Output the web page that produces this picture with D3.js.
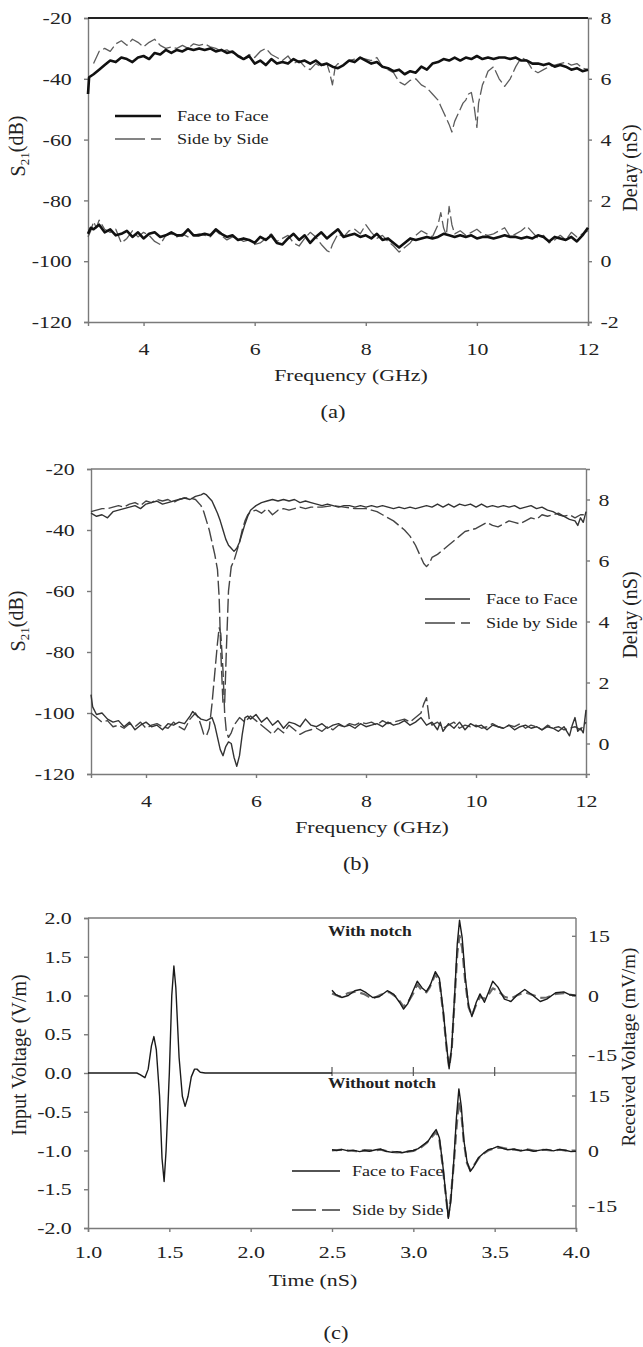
<!DOCTYPE html>
<html lang="en">
<head>
<meta charset="utf-8">
<title>S21, group delay and pulse response</title>
<script src="https://d3js.org/d3.v7.min.js"></script>
<style>
  body { margin: 0; background: #fff; }
  svg { display: block; font-family: "Liberation Serif", "Times New Roman", serif; }
  .axis path, .axis line { stroke: #7a7a7a; stroke-width: 1.4; }
  .axis text { font-size: 17.5px; fill: #222; font-family: "Liberation Serif", serif; }
</style>
</head>
<body>
<svg id="chart" width="643" height="1347"></svg>
<script>
// ---- data ----
const freqDomain = [3, 12];
const dbDomain = [-120, -20];
const freqTicks = [4, 6, 8, 10, 12];
const dbTicks = [-20, -40, -60, -80, -100, -120];
const delayTicksA = [-2, 0, 2, 4, 6, 8];
const delayTicksB = [0, 2, 4, 6, 8];
const timeTicks = [1.0, 1.5, 2.0, 2.5, 3.0, 3.5, 4.0];
const voltTicks = [2.0, 1.5, 1.0, 0.5, 0.0, -0.5, -1.0, -1.5, -2.0];
const mvTicks = [-15, 0, 15];
const midTicks = [2.5, 3.0, 3.5];

// (a) S21 in dB
const aFaceS21 = [[3.0,-45],[3.02,-39.5],[3.1,-38.5],[3.2,-37],[3.3,-35.5],[3.4,-34],[3.5,-34.5],[3.6,-33],[3.7,-33.5],[3.8,-34.5],[3.9,-33],[4.0,-32.5],[4.1,-33.5],[4.2,-31.5],[4.3,-32],[4.4,-30.5],[4.5,-31.5],[4.6,-30.5],[4.7,-31],[4.8,-30],[4.9,-30.5],[5.0,-30],[5.1,-30.5],[5.2,-30],[5.3,-31],[5.4,-30.5],[5.5,-31.5],[5.6,-31],[5.7,-32.5],[5.8,-33.5],[5.9,-32.5],[6.0,-35],[6.1,-34],[6.2,-35.5],[6.3,-33.5],[6.4,-35],[6.5,-34.5],[6.6,-35],[6.7,-33.5],[6.8,-34.5],[6.9,-34],[7.0,-35],[7.1,-34],[7.2,-35.5],[7.3,-35],[7.4,-36],[7.5,-36.5],[7.6,-35.5],[7.7,-34],[7.8,-34.5],[7.9,-33],[8.0,-34],[8.1,-35],[8.2,-34.5],[8.3,-36],[8.4,-36.5],[8.5,-37.5],[8.6,-37],[8.7,-38.5],[8.8,-37.5],[8.9,-38],[9.0,-36],[9.1,-37],[9.2,-35],[9.3,-34.5],[9.4,-33.5],[9.5,-34],[9.6,-33],[9.7,-34],[9.8,-33],[9.9,-33.5],[10.0,-32.5],[10.1,-33.5],[10.2,-33],[10.3,-33.5],[10.4,-33],[10.5,-33],[10.6,-33.5],[10.7,-33],[10.8,-34],[10.9,-34],[11.0,-35],[11.1,-35],[11.2,-35.5],[11.3,-35],[11.4,-36],[11.5,-35.5],[11.6,-36],[11.7,-37],[11.8,-36.5],[11.9,-37.5],[12.0,-37]];
const aSideS21 = [[3.1,-35],[3.15,-33],[3.2,-31],[3.3,-30],[3.4,-31],[3.5,-28.5],[3.6,-27.5],[3.7,-29],[3.8,-27],[3.9,-28],[4.0,-29.5],[4.1,-28],[4.2,-27],[4.3,-29],[4.4,-30],[4.5,-29.5],[4.6,-30],[4.7,-29],[4.8,-30],[4.9,-28.5],[5.0,-29],[5.1,-28.5],[5.2,-29.5],[5.3,-30],[5.4,-31],[5.5,-30.5],[5.6,-31.5],[5.7,-32],[5.8,-33.5],[5.9,-32],[6.0,-33],[6.1,-31],[6.2,-30],[6.3,-32],[6.4,-33],[6.5,-34],[6.6,-32.5],[6.7,-35],[6.8,-34],[6.9,-36],[7.0,-37],[7.1,-35],[7.2,-36],[7.3,-35],[7.35,-38],[7.4,-42],[7.45,-36],[7.5,-35],[7.6,-35.5],[7.7,-34],[7.8,-33.5],[7.9,-33],[8.0,-33.5],[8.1,-34],[8.2,-33],[8.3,-36],[8.4,-37],[8.5,-38],[8.6,-41],[8.7,-42],[8.8,-40.5],[8.9,-40],[9.0,-42],[9.1,-43],[9.2,-45],[9.3,-47],[9.35,-49],[9.4,-51],[9.45,-53],[9.5,-55],[9.55,-57.5],[9.6,-54],[9.65,-52],[9.7,-50],[9.75,-48],[9.8,-47],[9.85,-45],[9.9,-44.5],[9.95,-49],[10.0,-56],[10.03,-48],[10.1,-42],[10.15,-40],[10.2,-37.5],[10.3,-36],[10.4,-40],[10.5,-42.5],[10.6,-40],[10.7,-36],[10.8,-33],[10.9,-34],[11.0,-37],[11.1,-38],[11.2,-37],[11.3,-36],[11.4,-35.5],[11.5,-35],[11.6,-34.5],[11.7,-35.5],[11.8,-35],[11.9,-36.5],[12.0,-37]];
// (a) group delay in nS
const aFaceDelay = [[3.0,0.9],[3.05,1.1],[3.1,1.05],[3.2,1.2],[3.3,0.95],[3.4,1.05],[3.5,0.85],[3.6,0.9],[3.7,1.0],[3.8,0.8],[3.9,0.95],[4.0,0.75],[4.1,0.9],[4.2,0.95],[4.3,0.8],[4.4,0.85],[4.5,0.95],[4.6,0.85],[4.7,0.85],[4.8,1.05],[4.9,0.85],[5.0,0.85],[5.1,0.9],[5.2,0.85],[5.3,1.05],[5.4,0.9],[5.5,0.8],[5.6,0.85],[5.7,0.7],[5.8,0.75],[5.9,0.7],[6.0,0.6],[6.1,0.8],[6.2,0.7],[6.3,0.85],[6.4,0.6],[6.5,0.55],[6.6,0.75],[6.7,0.9],[6.8,0.7],[6.9,0.85],[7.0,0.6],[7.1,0.8],[7.2,0.95],[7.3,0.75],[7.4,0.9],[7.5,1.05],[7.6,0.8],[7.7,0.85],[7.8,0.9],[7.9,0.8],[8.0,0.85],[8.1,0.75],[8.2,0.9],[8.3,0.7],[8.4,0.75],[8.5,0.6],[8.6,0.45],[8.7,0.6],[8.8,0.75],[8.9,0.7],[9.0,0.75],[9.1,0.8],[9.2,0.75],[9.3,0.8],[9.4,0.9],[9.5,0.85],[9.6,0.8],[9.7,0.85],[9.8,0.8],[9.9,0.85],[10.0,0.75],[10.1,0.8],[10.2,0.8],[10.3,0.75],[10.4,0.8],[10.5,0.85],[10.6,0.8],[10.7,0.8],[10.8,0.75],[10.9,0.8],[11.0,0.75],[11.1,0.85],[11.2,0.8],[11.3,0.65],[11.4,0.8],[11.5,0.75],[11.6,0.7],[11.7,0.8],[11.8,0.65],[11.9,0.85],[12.0,1.1]];
const aSideDelay = [[3.0,0.8],[3.05,1.0],[3.1,1.3],[3.15,1.1],[3.2,1.35],[3.3,1.05],[3.4,0.95],[3.5,1.05],[3.6,0.6],[3.7,0.75],[3.8,1.0],[3.9,0.8],[4.0,0.95],[4.1,0.85],[4.2,0.65],[4.3,0.55],[4.4,0.85],[4.5,0.9],[4.6,0.8],[4.7,0.9],[4.8,0.8],[4.9,0.85],[5.0,0.9],[5.1,0.85],[5.2,0.8],[5.3,1.0],[5.4,0.85],[5.5,0.7],[5.6,0.8],[5.7,0.75],[5.8,0.65],[5.9,0.7],[6.0,0.55],[6.1,0.6],[6.2,0.75],[6.3,0.9],[6.4,0.65],[6.5,0.75],[6.6,0.85],[6.7,0.6],[6.8,0.5],[6.9,0.75],[7.0,0.95],[7.1,0.8],[7.2,0.55],[7.3,0.35],[7.35,0.3],[7.4,0.55],[7.5,0.9],[7.6,0.8],[7.7,1.0],[7.8,1.05],[7.9,0.9],[8.0,1.2],[8.1,0.95],[8.2,0.75],[8.3,0.85],[8.4,0.65],[8.5,0.5],[8.6,0.3],[8.7,0.45],[8.8,0.6],[8.9,0.85],[9.0,1.0],[9.1,0.9],[9.2,0.8],[9.3,1.2],[9.35,1.6],[9.4,1.1],[9.45,0.85],[9.5,1.8],[9.55,1.2],[9.6,0.9],[9.7,1.0],[9.8,0.85],[9.9,0.95],[10.0,1.05],[10.1,0.9],[10.2,0.85],[10.3,0.9],[10.4,1.0],[10.5,1.1],[10.6,0.8],[10.7,0.9],[10.8,1.0],[10.9,1.15],[11.0,0.95],[11.1,0.75],[11.2,0.85],[11.3,0.6],[11.4,0.7],[11.5,0.85],[11.6,0.7],[11.7,0.95],[11.8,0.8],[11.9,0.9],[12.0,1.0]];

// (b) S21 in dB
const bFaceS21 = [[3.0,-34.5],[3.1,-35.5],[3.2,-35],[3.3,-36],[3.4,-34],[3.5,-33.5],[3.6,-33],[3.7,-32.5],[3.8,-32],[3.9,-33],[4.0,-31.5],[4.1,-31],[4.2,-30.5],[4.3,-31.5],[4.4,-31],[4.5,-30.5],[4.6,-30],[4.7,-29.5],[4.8,-30],[4.9,-29],[5.0,-28.5],[5.05,-28],[5.1,-28.5],[5.15,-29.5],[5.2,-30.5],[5.25,-32.5],[5.3,-34.5],[5.35,-37],[5.4,-40],[5.45,-43],[5.5,-45],[5.55,-46],[5.6,-47],[5.65,-46],[5.7,-44],[5.75,-41],[5.8,-38],[5.85,-35.5],[5.9,-33.5],[6.0,-32],[6.1,-31],[6.2,-30.5],[6.3,-30],[6.4,-30.5],[6.5,-30],[6.6,-30.5],[6.7,-30],[6.8,-31],[6.9,-30.5],[7.0,-31],[7.1,-31.5],[7.2,-32],[7.3,-31.5],[7.4,-32],[7.5,-32.5],[7.6,-32],[7.7,-32],[7.8,-32.5],[7.9,-32],[8.0,-32.5],[8.1,-32],[8.2,-32.5],[8.3,-32],[8.4,-32.5],[8.5,-33],[8.6,-32.5],[8.7,-33],[8.8,-32.5],[8.9,-33],[9.0,-32.5],[9.1,-32],[9.2,-32.5],[9.3,-31.5],[9.4,-32.5],[9.5,-31.5],[9.6,-32.5],[9.7,-31.5],[9.8,-32],[9.9,-31.5],[10.0,-32.5],[10.1,-31.5],[10.2,-32.5],[10.3,-32],[10.4,-32.5],[10.5,-32],[10.6,-32.5],[10.7,-32],[10.8,-33],[10.9,-32.5],[11.0,-32],[11.1,-33],[11.2,-32.5],[11.3,-33.5],[11.4,-34],[11.5,-35],[11.6,-35.5],[11.7,-36.5],[11.8,-37],[11.85,-38.5],[11.9,-36],[11.95,-37.5],[12.0,-34]];
const bSideS21 = [[3.0,-34],[3.1,-33.5],[3.2,-33],[3.3,-33],[3.4,-32.5],[3.5,-32],[3.6,-32.5],[3.7,-31.5],[3.8,-31],[3.9,-32],[4.0,-30.5],[4.1,-31],[4.2,-30],[4.3,-30.5],[4.4,-30],[4.5,-31],[4.6,-30],[4.7,-29.5],[4.8,-29.5],[4.9,-30],[5.0,-32],[5.05,-34],[5.1,-37],[5.15,-40],[5.2,-44],[5.25,-48],[5.3,-53],[5.33,-62],[5.36,-80],[5.4,-97],[5.43,-97],[5.46,-80],[5.5,-60],[5.55,-52],[5.6,-50],[5.65,-47],[5.7,-44],[5.75,-40],[5.8,-37],[5.85,-35],[5.9,-34],[6.0,-33.5],[6.1,-34.5],[6.2,-33],[6.3,-35],[6.4,-33.5],[6.5,-33],[6.6,-33.5],[6.7,-33],[6.8,-32.5],[6.9,-33],[7.0,-32.5],[7.2,-32.5],[7.4,-32],[7.6,-32.5],[7.8,-33],[8.0,-33],[8.1,-33.5],[8.2,-34],[8.3,-35],[8.4,-36],[8.5,-37],[8.6,-38.5],[8.7,-40],[8.8,-42],[8.9,-45],[9.0,-49],[9.05,-51],[9.1,-52],[9.15,-51],[9.2,-49],[9.3,-48],[9.4,-46.5],[9.5,-45],[9.6,-43.5],[9.7,-42],[9.8,-40.5],[9.9,-40],[10.0,-39.5],[10.1,-38.5],[10.2,-37.5],[10.3,-38.5],[10.4,-39],[10.5,-38],[10.6,-37],[10.7,-37.5],[10.8,-38],[10.9,-37],[11.0,-36],[11.1,-36.5],[11.2,-35],[11.3,-35.5],[11.4,-35],[11.5,-34.5],[11.6,-35.5],[11.7,-35],[11.8,-36],[11.9,-35],[12.0,-35]];
// (b) group delay in nS
const bFaceDelay = [[3.0,1.6],[3.03,1.2],[3.1,0.95],[3.2,1.0],[3.3,0.8],[3.4,0.7],[3.5,0.75],[3.6,0.55],[3.7,0.7],[3.8,0.45],[3.9,0.6],[4.0,0.7],[4.1,0.55],[4.2,0.6],[4.3,0.45],[4.4,0.65],[4.5,0.6],[4.6,0.7],[4.7,0.65],[4.8,0.9],[4.85,1.05],[4.9,0.95],[5.0,0.8],[5.1,0.75],[5.2,0.85],[5.25,0.6],[5.3,0.2],[5.35,-0.2],[5.4,-0.4],[5.45,-0.1],[5.5,0.05],[5.55,0.0],[5.6,-0.45],[5.65,-0.75],[5.7,-0.4],[5.75,0.3],[5.8,0.85],[5.85,0.9],[5.9,0.8],[6.0,0.95],[6.1,0.7],[6.2,0.85],[6.3,0.6],[6.4,0.75],[6.5,0.5],[6.6,0.7],[6.7,0.65],[6.8,0.55],[6.9,0.8],[7.0,0.6],[7.1,0.55],[7.2,0.65],[7.3,0.5],[7.4,0.6],[7.5,0.65],[7.6,0.55],[7.7,0.6],[7.8,0.5],[7.9,0.65],[8.0,0.55],[8.1,0.6],[8.2,0.65],[8.3,0.55],[8.4,0.7],[8.5,0.6],[8.6,0.65],[8.7,0.75],[8.8,0.6],[8.9,0.7],[9.0,0.85],[9.1,0.6],[9.2,0.7],[9.3,0.45],[9.35,0.7],[9.4,0.4],[9.5,0.65],[9.6,0.5],[9.7,0.7],[9.8,0.45],[9.9,0.65],[10.0,0.55],[10.1,0.6],[10.2,0.45],[10.3,0.6],[10.4,0.55],[10.5,0.5],[10.6,0.6],[10.7,0.45],[10.8,0.55],[10.9,0.6],[11.0,0.5],[11.1,0.55],[11.2,0.45],[11.3,0.55],[11.4,0.5],[11.5,0.4],[11.6,0.55],[11.7,0.25],[11.75,0.6],[11.8,0.85],[11.85,0.4],[11.9,0.5],[11.95,0.35],[12.0,1.1]];
const bSideDelay = [[3.0,1.0],[3.1,0.85],[3.2,0.7],[3.3,0.75],[3.4,0.55],[3.5,0.6],[3.6,0.5],[3.7,0.65],[3.8,0.55],[3.9,0.7],[4.0,0.5],[4.1,0.6],[4.2,0.65],[4.3,0.55],[4.4,0.5],[4.5,0.7],[4.6,0.55],[4.7,0.45],[4.8,0.8],[4.9,1.0],[4.95,0.85],[5.0,0.6],[5.05,0.3],[5.1,0.25],[5.15,0.5],[5.2,1.3],[5.25,2.3],[5.3,3.3],[5.33,3.8],[5.36,3.6],[5.4,2.4],[5.43,1.0],[5.46,0.4],[5.5,0.2],[5.55,0.35],[5.6,0.6],[5.7,0.85],[5.8,0.7],[5.9,0.9],[6.0,0.75],[6.1,0.6],[6.2,0.45],[6.3,0.3],[6.4,0.5],[6.5,0.35],[6.6,0.6],[6.7,0.45],[6.8,0.3],[6.9,0.4],[7.0,0.45],[7.1,0.5],[7.2,0.4],[7.3,0.55],[7.4,0.45],[7.5,0.6],[7.6,0.55],[7.7,0.65],[7.8,0.6],[7.9,0.7],[8.0,0.65],[8.1,0.7],[8.2,0.6],[8.3,0.75],[8.4,0.65],[8.5,0.7],[8.6,0.75],[8.7,0.8],[8.8,0.7],[8.9,0.85],[9.0,1.0],[9.05,1.3],[9.1,1.5],[9.15,0.8],[9.2,0.6],[9.3,0.7],[9.4,0.5],[9.5,0.6],[9.6,0.7],[9.7,0.5],[9.8,0.6],[9.9,0.55],[10.0,0.6],[10.1,0.5],[10.2,0.55],[10.3,0.65],[10.4,0.55],[10.5,0.5],[10.6,0.6],[10.7,0.55],[10.8,0.65],[10.9,0.5],[11.0,0.6],[11.1,0.55],[11.2,0.45],[11.3,0.6],[11.4,0.5],[11.5,0.55],[11.6,0.45],[11.7,0.5],[11.8,0.55],[11.9,0.45],[12.0,0.7]];

// (c) input pulse, V/m against time in nS
const cInput = [[1.0,0],[1.3,0],[1.32,-0.02],[1.35,-0.06],[1.37,0.05],[1.39,0.35],[1.405,0.47],[1.42,0.3],[1.44,-0.3],[1.455,-1.1],[1.468,-1.4],[1.48,-1.0],[1.5,0.0],[1.515,1.0],[1.528,1.38],[1.54,1.1],[1.56,0.2],[1.58,-0.3],[1.597,-0.43],[1.615,-0.3],[1.635,-0.05],[1.655,0.05],[1.67,0.05],[1.69,0.01],[1.72,0],[2.5,0]];
// (c) received voltage in mV/m, with notch
const cNotchFace = [[2.5,1.3],[2.524,0.2],[2.56,-0.5],[2.6,0],[2.64,1.2],[2.675,1.5],[2.71,0.7],[2.75,-0.5],[2.79,-0.3],[2.84,1.2],[2.88,0.3],[2.915,-1.7],[2.94,-3.4],[2.965,-2.1],[3.0,1.3],[3.024,3.6],[3.054,1.9],[3.08,1.0],[3.104,2.6],[3.135,6.0],[3.16,4.3],[3.185,-4.3],[3.205,-12.9],[3.22,-18.4],[3.236,-12.9],[3.256,1.7],[3.27,12.9],[3.284,18.9],[3.3,14.6],[3.32,4.3],[3.34,-2.6],[3.36,-5.3],[3.387,-1.7],[3.41,0.4],[3.437,-1.7],[3.463,0.9],[3.488,3.6],[3.52,2.1],[3.56,-0.9],[3.6,-1.5],[3.64,0.2],[3.685,1.5],[3.73,0.2],[3.78,-1.5],[3.82,-0.9],[3.875,0.7],[3.925,0.9],[3.96,0.2],[4.0,0]];
const cNotchSide = [[2.5,0.5],[2.55,-0.3],[2.6,0.6],[2.65,1.0],[2.7,0.3],[2.75,-0.8],[2.8,0.2],[2.85,0.9],[2.9,-0.5],[2.94,-2.8],[2.97,-1.5],[3.0,0.6],[3.025,2.8],[3.05,1.4],[3.08,0.8],[3.1,2.0],[3.135,5.3],[3.16,3.6],[3.185,-4.8],[3.205,-13.5],[3.22,-18.0],[3.236,-13.5],[3.256,0.5],[3.27,10.5],[3.284,15.0],[3.3,12.0],[3.32,3.0],[3.34,-3.0],[3.36,-5.0],[3.387,-2.2],[3.41,-0.3],[3.437,-0.8],[3.463,0.3],[3.488,1.8],[3.52,1.2],[3.56,-0.3],[3.6,-0.8],[3.64,0.1],[3.685,0.8],[3.73,0.2],[3.78,-0.6],[3.82,-0.5],[3.875,0.4],[3.925,0.6],[3.96,0.2],[4.0,0]];
// (c) received voltage in mV/m, without notch
const cPlainFace = [[2.5,0.2],[2.53,0.0],[2.56,0.3],[2.6,-0.1],[2.63,0.1],[2.67,-0.3],[2.7,0.0],[2.73,-0.2],[2.77,0.2],[2.8,0.4],[2.83,-0.2],[2.87,-0.5],[2.9,-0.3],[2.93,-0.6],[2.97,-0.2],[3.0,0.0],[3.03,0.5],[3.06,1.5],[3.09,2.5],[3.12,4.5],[3.14,5.7],[3.16,3.5],[3.18,-3.5],[3.2,-12.0],[3.215,-18.5],[3.23,-14.0],[3.25,-2.0],[3.265,9.0],[3.28,16.8],[3.295,12.0],[3.31,3.0],[3.33,-3.0],[3.35,-5.7],[3.37,-4.5],[3.4,-2.0],[3.43,-0.8],[3.46,0.2],[3.49,0.6],[3.52,1.1],[3.55,0.6],[3.58,0.2],[3.62,0.4],[3.66,-0.1],[3.7,0.2],[3.74,-0.2],[3.78,0.1],[3.82,0.3],[3.86,-0.1],[3.9,0.3],[3.94,0.0],[3.97,-0.3],[4.0,-0.2]];
const cPlainSide = [[2.5,0.0],[2.55,0.2],[2.6,0.0],[2.65,-0.2],[2.7,0.1],[2.75,0.0],[2.8,0.2],[2.85,-0.3],[2.9,-0.5],[2.95,-0.4],[3.0,-0.1],[3.04,0.6],[3.08,2.0],[3.12,4.0],[3.14,5.0],[3.16,3.0],[3.18,-4.0],[3.2,-12.5],[3.215,-18.0],[3.23,-13.0],[3.25,-3.0],[3.265,6.0],[3.28,13.5],[3.295,10.0],[3.31,2.5],[3.33,-3.5],[3.35,-5.3],[3.37,-4.2],[3.4,-2.2],[3.43,-0.9],[3.46,0.0],[3.5,0.6],[3.54,0.8],[3.58,0.4],[3.62,0.2],[3.66,0.0],[3.7,0.3],[3.75,-0.1],[3.8,0.2],[3.85,0.0],[3.9,0.2],[3.95,-0.1],[4.0,0.0]];

const legendNames = ["Face to Face", "Side by Side"];

// ---- drawing ----
const SX = 1.25; // the scanned figure is horizontally stretched
const svg = d3.select("#chart");

function htext(g, x, y, str, size, anchor, weight) {
  return g.append("text")
    .attr("transform", `translate(${x},${y}) scale(${SX},1)`)
    .attr("text-anchor", anchor || "middle")
    .style("font-size", size + "px")
    .style("font-weight", weight || "normal")
    .attr("fill", "#222")
    .text(str);
}

function vtext(g, x, y, size) {
  return g.append("text")
    .attr("transform", `translate(${x},${y}) rotate(-90)`)
    .attr("text-anchor", "middle")
    .style("font-size", size + "px")
    .attr("fill", "#222");
}

function stretchTicks(axisG) {
  axisG.selectAll("text").attr("transform", `scale(${SX},1)`);
}

function legend(g, x1, x2, y, styles) {
  styles.forEach((s, i) => {
    const yy = y + i * s.gap;
    g.append("line")
      .attr("x1", x1).attr("x2", x2).attr("y1", yy).attr("y2", yy)
      .attr("stroke", s.color).attr("stroke-width", s.width)
      .attr("stroke-dasharray", s.dash || null);
    htext(g, x2 + s.textGap, yy + 5, legendNames[i], 14.5, "start");
  });
}

function freqPanel(p) {
  const g = svg.append("g");
  const x = d3.scaleLinear().domain(freqDomain).range([p.left, p.right]);
  const y = d3.scaleLinear().domain(dbDomain).range([p.bottom, p.top]);
  const y2 = d3.scaleLinear().domain(p.delayDomain).range([p.bottom, p.top]);

  const gx = g.append("g").attr("class", "axis")
    .attr("transform", `translate(0,${p.bottom})`)
    .call(d3.axisBottom(x).tickValues(freqTicks).tickSize(4).tickPadding(17).tickFormat(d => String(d)));
  stretchTicks(gx);
  const gy = g.append("g").attr("class", "axis")
    .attr("transform", `translate(${p.left},0)`)
    .call(d3.axisLeft(y).tickValues(dbTicks).tickSize(4).tickPadding(9).tickFormat(d => String(d)));
  stretchTicks(gy);
  const gy2 = g.append("g").attr("class", "axis")
    .attr("transform", `translate(${p.right},0)`)
    .call(d3.axisRight(y2).tickValues(p.delayTicks).tickSize(4).tickPadding(6).tickFormat(d => String(d)));
  stretchTicks(gy2);
  g.append("line")
    .attr("x1", p.left).attr("x2", p.right).attr("y1", p.top).attr("y2", p.top)
    .attr("stroke", p.topColor).attr("stroke-width", p.topWidth);

  const lineDb = d3.line().x(d => x(d[0])).y(d => y(d[1]));
  const lineDelay = d3.line().x(d => x(d[0])).y(d => y2(d[1]));
  const draw = (data, gen, s) => g.append("path").datum(data)
    .attr("fill", "none").attr("stroke", s.color).attr("stroke-width", s.width)
    .attr("stroke-linejoin", "round").attr("stroke-dasharray", s.dash || null)
    .attr("d", gen);
  draw(p.sideS21, lineDb, p.side);
  draw(p.sideDelay, lineDelay, p.side);
  draw(p.faceS21, lineDb, p.face);
  draw(p.faceDelay, lineDelay, p.face);

  legend(g, p.legend[0], p.legend[1], p.legend[2], [
    Object.assign({ gap: p.legend[3], textGap: 16 }, p.face),
    Object.assign({ gap: p.legend[3], textGap: 16 }, p.side, { dash: p.legendDash })
  ]);

  htext(g, p.titleX, p.bottom + 59, "Frequency (GHz)", 17.5);
  htext(g, p.capX, p.bottom + 96, p.caption, 18);

  const s21 = vtext(g, 25, p.s21Y, 20);
  s21.append("tspan").text("S");
  s21.append("tspan").attr("dy", "0.3em").style("font-size", "13px").text("21");
  s21.append("tspan").attr("dy", "-0.3em").text("(dB)");
  vtext(g, 637, p.delayY, 20).text("Delay (nS)");
}

freqPanel({
  left: 88, right: 588, top: 18, bottom: 322,
  delayDomain: [-2, 8], delayTicks: delayTicksA,
  faceS21: aFaceS21, sideS21: aSideS21, faceDelay: aFaceDelay, sideDelay: aSideDelay,
  face: { color: "#111", width: 2.6 },
  side: { color: "#5c5c5c", width: 1.3, dash: "14,4" },
  legendDash: "30,6,10",
  topColor: "#222", topWidth: 2,
  legend: [115, 161, 116, 23],
  titleX: 351, capX: 333, caption: "(a)",
  s21Y: 146, delayY: 168
});

freqPanel({
  left: 91, right: 586, top: 469, bottom: 774,
  delayDomain: [-1, 9], delayTicks: delayTicksB,
  faceS21: bFaceS21, sideS21: bSideS21, faceDelay: bFaceDelay, sideDelay: bSideDelay,
  face: { color: "#333", width: 1.4 },
  side: { color: "#444", width: 1.4, dash: "14,4" },
  legendDash: "30,6,10",
  topColor: "#7a7a7a", topWidth: 1.4,
  legend: [425, 470, 599, 24],
  titleX: 372, capX: 356, caption: "(b)",
  s21Y: 621, delayY: 615
});

// (c) time-domain panel
(function () {
  const L = 88, R = 576, T = 918, B = 1228;
  const g = svg.append("g");
  const x = d3.scaleLinear().domain([1, 4]).range([L, R]);
  const y = d3.scaleLinear().domain([-2, 2]).range([B, T]);
  const up = d3.scaleLinear().domain([-15, 15]).range([y(1 - 0.77), y(1 + 0.77)]);
  const low = d3.scaleLinear().domain([-15, 15]).range([y(-1 - 0.71), y(-1 + 0.71)]);

  const gx = g.append("g").attr("class", "axis")
    .attr("transform", `translate(0,${B})`)
    .call(d3.axisBottom(x).tickValues(timeTicks).tickSize(4).tickPadding(14).tickFormat(d => d.toFixed(1)));
  stretchTicks(gx);
  const gy = g.append("g").attr("class", "axis")
    .attr("transform", `translate(${L},0)`)
    .call(d3.axisLeft(y).tickValues(voltTicks).tickSize(4).tickPadding(9).tickFormat(d => d.toFixed(1)));
  stretchTicks(gy);
  [up, low].forEach(sc => {
    const ga = g.append("g").attr("class", "axis")
      .attr("transform", `translate(${R},0)`)
      .call(d3.axisRight(sc).tickValues(mvTicks).tickSizeInner(-4).tickSizeOuter(0).tickPadding(9.6).tickFormat(d => String(d)));
    ga.select(".domain").remove();
    stretchTicks(ga);
  });
  g.append("line").attr("x1", R).attr("x2", R).attr("y1", T).attr("y2", B)
    .attr("stroke", "#7a7a7a").attr("stroke-width", 1.4);
  g.append("line").attr("x1", L).attr("x2", R).attr("y1", T).attr("y2", T)
    .attr("stroke", "#7a7a7a").attr("stroke-width", 1.4);

  // divider axis at 0 V/m between the two received traces
  g.append("line").attr("x1", x(2.5)).attr("x2", x(4)).attr("y1", y(0)).attr("y2", y(0))
    .attr("stroke", "#555").attr("stroke-width", 1.2);
  g.selectAll(".midtick").data(midTicks).enter().append("line")
    .attr("class", "midtick")
    .attr("x1", d => x(d)).attr("x2", d => x(d))
    .attr("y1", y(0) - 6).attr("y2", y(0) + 3)
    .attr("stroke", "#555").attr("stroke-width", 1.2);

  const lineIn = d3.line().x(d => x(d[0])).y(d => y(d[1]));
  const lineUp = d3.line().x(d => x(d[0])).y(d => up(d[1]));
  const lineLow = d3.line().x(d => x(d[0])).y(d => low(d[1]));
  const face = { color: "#1a1a1a", width: 1.4 };
  const side = { color: "#6a6a6a", width: 2.2, dash: "10,5" };
  const draw = (data, gen, s) => g.append("path").datum(data)
    .attr("fill", "none").attr("stroke", s.color).attr("stroke-width", s.width)
    .attr("stroke-linejoin", "round").attr("stroke-dasharray", s.dash || null)
    .attr("d", gen);
  draw(cInput, lineIn, face);
  draw(cNotchSide, lineUp, side);
  draw(cNotchFace, lineUp, face);
  draw(cPlainSide, lineLow, side);
  draw(cPlainFace, lineLow, face);

  htext(g, 328, 936, "With notch", 14, "start", "bold");
  htext(g, 328, 1088, "Without notch", 14, "start", "bold");

  legend(g, 292, 340, 1171, [
    Object.assign({ gap: 39, textGap: 12 }, face),
    Object.assign({ gap: 39, textGap: 12 }, side, { dash: "24,6" })
  ]);

  htext(g, 313, 1286, "Time (nS)", 17.5);
  htext(g, 336, 1339, "(c)", 18);
  vtext(g, 26, 1055, 20).text("Input Voltage (V/m)");
  vtext(g, 635, 1047, 19).text("Received Voltage (mV/m)");
})();
</script>
</body>
</html>
